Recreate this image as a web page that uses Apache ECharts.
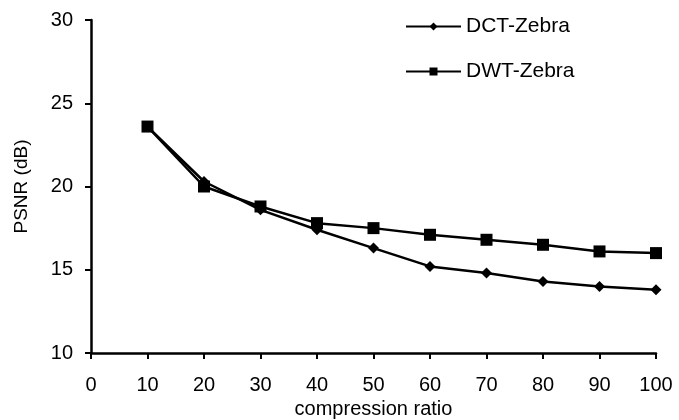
<!DOCTYPE html>
<html>
<head>
<meta charset="utf-8">
<script src="https://cdn.jsdelivr.net/npm/echarts@6/dist/echarts.min.js"></script>
<style>
  html, body { margin: 0; padding: 0; background: #fff; }
  #chart { width: 679px; height: 420px; }
</style>
</head>
<body>
<div id="chart"></div>
<script>
// compression ratios on the x axis
const ratios = [10, 20, 30, 40, 50, 60, 70, 80, 90, 100]
// PSNR values (dB)
const dctZebra = [23.6, 20.3, 18.6, 17.4, 16.3, 15.2, 14.8, 14.3, 14.0, 13.8]
const dwtZebra = [23.6, 20.0, 18.8, 17.8, 17.5, 17.1, 16.8, 16.5, 16.1, 16.0]

const font = 'Liberation Sans, Arial, sans-serif'
const pairs = (vals) => ratios.map((r, i) => [r, vals[i]])

const chart = echarts.init(document.getElementById('chart'))

const lineSeries = (name, vals, symbol, size) => ({
  name,
  type: 'line',
  data: pairs(vals),
  symbol,
  symbolSize: size,
  showSymbol: true,
  lineStyle: { color: '#000', width: 2.5 },
  itemStyle: { color: '#000' },
  animation: false,
})

chart.setOption({
  backgroundColor: '#fff',
  grid: { left: 91, right: 23, top: 20, bottom: 67, outerBoundsMode: 'none' },
  legend: {
    orient: 'vertical',
    left: 400,
    top: 11,
    itemWidth: 55,
    itemHeight: 10,
    itemGap: 24,
    textStyle: { fontFamily: font, fontSize: 21, color: '#000' },
    data: ['DCT-Zebra', 'DWT-Zebra'],
  },
  xAxis: {
    type: 'value',
    min: 0,
    max: 100,
    interval: 10,
    name: 'compression ratio',
    nameLocation: 'middle',
    nameGap: 43,
    nameTextStyle: { fontFamily: font, fontSize: 20, color: '#000' },
    axisLine: { lineStyle: { color: '#000', width: 2.5 } },
    axisTick: { lineStyle: { color: '#000', width: 2 }, length: 6 },
    axisLabel: { fontFamily: font, fontSize: 20, color: '#000', margin: 22 },
    splitLine: { show: false },
  },
  yAxis: {
    type: 'value',
    min: 10,
    max: 30,
    interval: 5,
    name: 'PSNR (dB)',
    nameLocation: 'middle',
    nameGap: 60,
    nameTextStyle: { fontFamily: font, fontSize: 19, color: '#000' },
    axisLine: { show: true, lineStyle: { color: '#000', width: 2.5 } },
    axisTick: { show: true, lineStyle: { color: '#000', width: 2 }, length: 6 },
    axisLabel: { fontFamily: font, fontSize: 20, color: '#000', margin: 18 },
    splitLine: { show: false },
  },
  series: [
    lineSeries('DCT-Zebra', dctZebra, 'diamond', 11),
    lineSeries('DWT-Zebra', dwtZebra, 'rect', 12),
  ],
})

window.addEventListener('resize', () => chart.resize())
</script>
</body>
</html>
